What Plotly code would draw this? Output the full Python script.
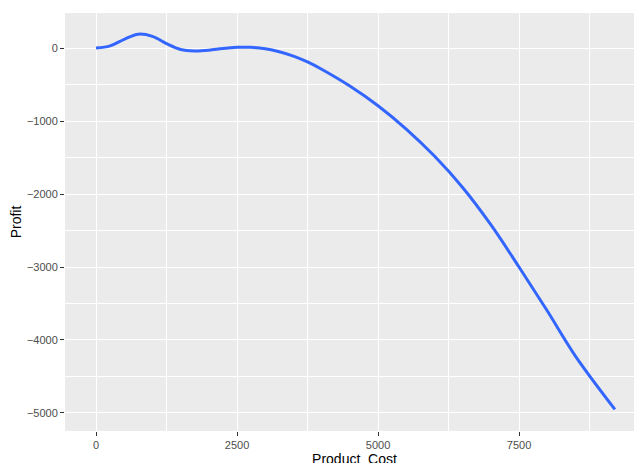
import plotly.graph_objects as go

product_cost = [0, 250, 500, 750, 1000, 1250, 1500, 1750, 2000, 2250, 2500, 2750,
                3000, 3250, 3500, 3750, 4000, 4500, 5000, 5500, 6000, 6500, 7000,
                7500, 8000, 8500, 9200]
profit = [0, 30, 120, 190, 160, 60, -20, -40, -30, -5, 10, 10,
          -10, -50, -110, -190, -290, -520, -790, -1110, -1480, -1910, -2420,
          -3000, -3600, -4220, -4950]

fig = go.Figure(go.Scatter(
    x=product_cost, y=profit, mode="lines",
    line=dict(color="#3366FF", width=3, shape="spline", smoothing=1.0)
))

axis_common = dict(
    showgrid=True, gridcolor="white", gridwidth=1.3,
    zeroline=False, ticks="outside", ticklen=4, tickcolor="#333333",
    tickfont=dict(size=11, color="#4D4D4D"), showline=False, automargin=False,
)

fig.update_layout(
    width=642, height=463,
    plot_bgcolor="#EBEBEB", paper_bgcolor="white",
    margin=dict(l=57, r=6, t=5, b=40),
    font=dict(family="Liberation Sans, Arial", color="black"),
    showlegend=False,
    xaxis=dict(axis_common, range=[-550, 9716], tickvals=[0, 2500, 5000, 7500],
               minor=dict(tickvals=[1250, 3750, 6250, 8750], showgrid=True,
                          gridcolor="white", gridwidth=0.5, ticks=""),
               title=dict(text="Product_Cost", font=dict(size=14), standoff=2)),
    yaxis=dict(axis_common, range=[-5247, 480],
               tickvals=[0, -1000, -2000, -3000, -4000, -5000],
               minor=dict(tickvals=[-500, -1500, -2500, -3500, -4500], showgrid=True,
                          gridcolor="white", gridwidth=0.5, ticks=""),
               title=dict(text="Profit", font=dict(size=14), standoff=2)),
)

fig.write_html("out.html")
